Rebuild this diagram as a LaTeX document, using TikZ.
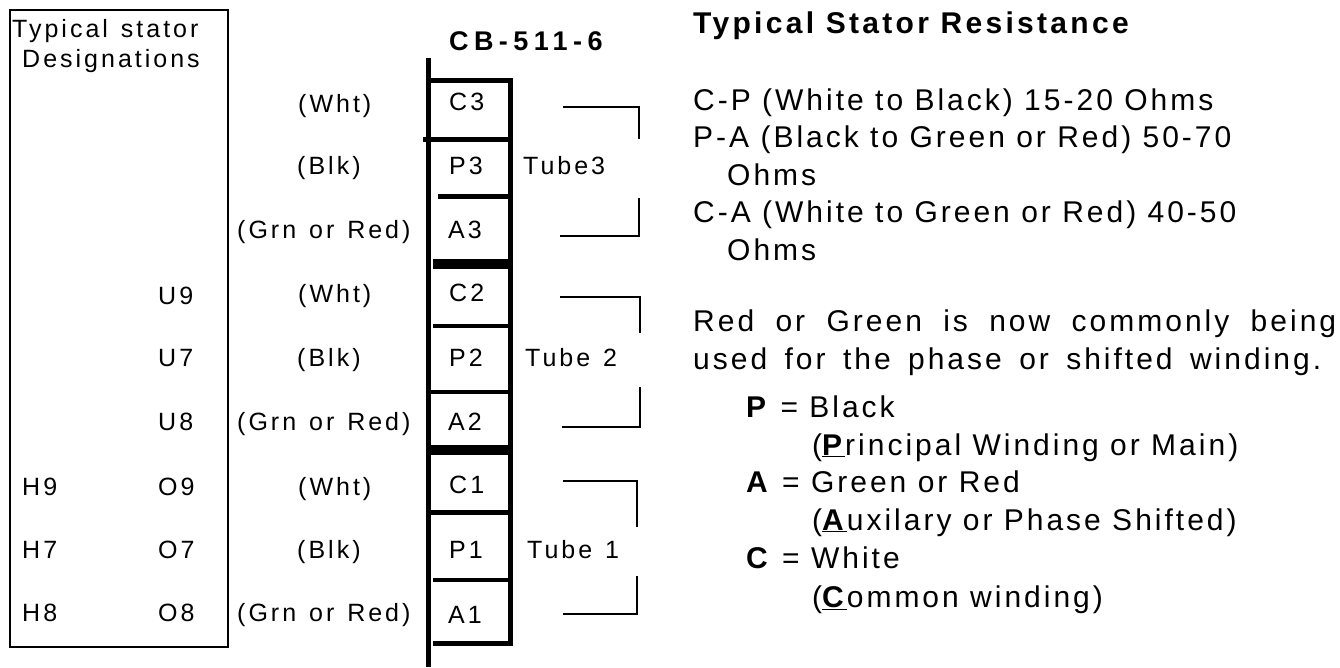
\documentclass[tikz,border=0pt]{standalone}
\usepackage{fontspec}
\setmainfont{Liberation Sans}
\newfontfamily\lspfont[LetterSpace=12,WordSpace=1.3]{Liberation Sans}
\newfontfamily\cbfont[LetterSpace=20]{Liberation Sans}
\newfontfamily\rspfont[LetterSpace=10]{Liberation Sans}
\newfontfamily\rspbfont[LetterSpace=11]{Liberation Sans}
\tikzset{
  lt/.style={font=\lspfont\fontsize{25}{29}\selectfont, inner sep=0pt, anchor=base west},
  rt/.style={font=\rspfont\fontsize{30}{36}\selectfont, inner sep=0pt, anchor=base west},
  rtb/.style={font=\rspbfont\bfseries\fontsize{30}{36}\selectfont, inner sep=0pt, anchor=base west},
  strip/.style={line width=5pt},
  div/.style={line width=4.8pt},
  thickdiv/.style={line width=10.5pt},
  brk/.style={line width=2pt},
  boxline/.style={line width=2pt}
}
\begin{document}
\begin{tikzpicture}[x=1pt,y=-1pt]
\useasboundingbox (0,0) rectangle (1340,667);
% left designation box
\draw[boxline] (10,10) rectangle (228,647);
\node[lt] (hd1) at (12,37) {Typical stator};
\node[lt] (hd2) at (22,67) {Designations};
% designations
\node[lt] (u9) at (158,304) {U9};
\node[lt] (u7) at (158,366) {U7};
\node[lt] (u8) at (158,430) {U8};
\node[lt] (h9) at (22,495) {H9};
\node[lt] (o9) at (158,495) {O9};
\node[lt] (h7) at (22,558) {H7};
\node[lt] (o7) at (158,558) {O7};
\node[lt] (h8) at (22,621) {H8};
\node[lt] (o8) at (158,621) {O8};
% wire colours
\node[lt] (w3) at (298,112) {(Wht)};
\node[lt] (b3) at (297,174) {(Blk)};
\node[lt] (g3) at (237,238) {(Grn or Red)};
\node[lt] (w2) at (298,302) {(Wht)};
\node[lt] (b2) at (297,366) {(Blk)};
\node[lt] (g2) at (237,430) {(Grn or Red)};
\node[lt] (w1) at (298,495) {(Wht)};
\node[lt] (b1) at (297,558) {(Blk)};
\node[lt] (g1) at (237,621) {(Grn or Red)};
% title of strip
\node[font=\cbfont\bfseries\fontsize{27}{32}\selectfont, inner sep=0pt, anchor=base west] (cb) at (449,50) {CB-511-6};
% terminal strip
\draw[strip] (428,58) -- (428,667);
\draw[strip] (510.5,78) -- (510.5,646);
\draw[strip] (428,80.5) -- (513,80.5);
\draw[div] (423,139.5) -- (510,139.5);
\draw[div] (438,196.5) -- (510,196.5);
\draw[thickdiv] (433,264) -- (510,264);
\draw[div] (433,326) -- (510,326);
\draw[div] (428,392) -- (510,392);
\draw[thickdiv] (428,450) -- (510,450);
\draw[div] (430,512.5) -- (510,512.5);
\draw[div] (433,580) -- (510,580);
\draw[div] (433,643.5) -- (513,643.5);
% terminals
\node[lt] (c3) at (449,110) {C3};
\node[lt] (p3) at (449,174) {P3};
\node[lt] (a3) at (448,238) {A3};
\node[lt] (c2) at (449,301) {C2};
\node[lt] (p2) at (449,366) {P2};
\node[lt] (a2) at (448,430) {A2};
\node[lt] (c1) at (449,493) {C1};
\node[lt] (p1) at (449,558) {P1};
\node[lt] (a1) at (448,623) {A1};
% tubes
\node[lt] (t3) at (523,174) {Tube3};
\node[lt] (t2) at (525,366) {Tube 2};
\node[lt] (t1) at (527,558) {Tube 1};
% brackets
\draw[brk] (563,107) -- (639,107) -- (639,139);
\draw[brk] (639,198) -- (639,236) -- (560,236);
\draw[brk] (560,297) -- (640,297) -- (640,333);
\draw[brk] (640,387) -- (640,427) -- (562,427);
\draw[brk] (563,481) -- (637,481) -- (637,527);
\draw[brk] (637,576) -- (637,614) -- (563,614);
% right text
\node[rtb] (res) at (693,33) {Typical Stator Resistance};
\node[rt] (cp) at (693,110) {C-P (White to Black) 15-20 Ohms};
\node[rt] (pa) at (693,147) {P-A (Black to Green or Red) 50-70};
\node[rt] (pa2) at (727,185) {Ohms};
\node[rt] (ca) at (693,222) {C-A (White to Green or Red) 40-50};
\node[rt] (ca2) at (727,260) {Ohms};
\node[rt] (n1) at (693,331) {\makebox[643pt][s]{Red or Green is now commonly being}};
\node[rt] (n2) at (693,369) {\makebox[628pt][s]{used for the phase or shifted winding.}};
\node[rt] (lp) at (746,417) {\textbf{P} = Black};
\node[rt] (lp2) at (812,455) {(\underline{\textbf{P}}rincipal Winding or Main)};
\node[rt] (la) at (746,492) {\textbf{A} = Green or Red};
\node[rt] (la2) at (812,530) {(\underline{\textbf{A}}uxilary or Phase Shifted)};
\node[rt] (lc) at (746,568) {\textbf{C} = White};
\node[rt] (lc2) at (812,607) {(\underline{\textbf{C}}ommon winding)};
\end{tikzpicture}
\end{document}
